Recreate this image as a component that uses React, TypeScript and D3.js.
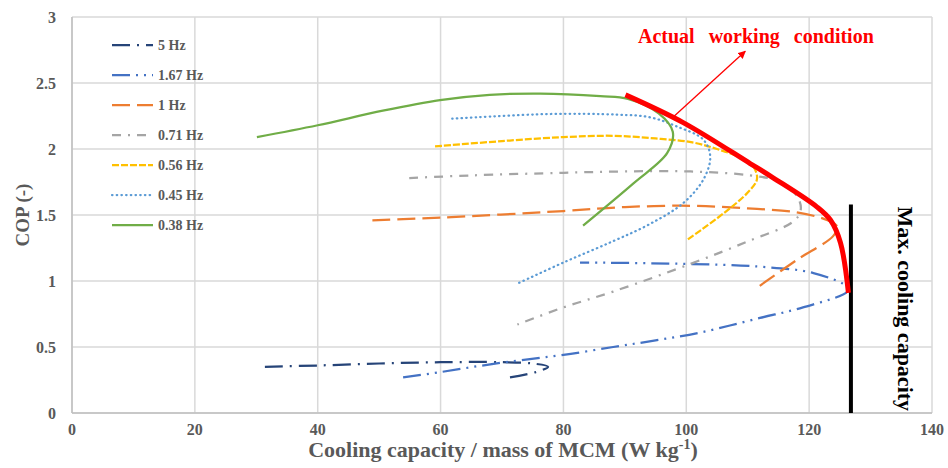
import React from 'react';
import * as d3 from 'd3';

// tick values
const xTicks = [0, 20, 40, 60, 80, 100, 120, 140];
const yTicks = [0, 0.5, 1, 1.5, 2, 2.5, 3];

// series: [cooling capacity per mass, COP]
const s5Hz: [number, number][] = [
  [31.4, 0.35], [40, 0.36], [50, 0.375], [60, 0.385], [70, 0.385], [75, 0.375],
  [77.5, 0.35], [75.5, 0.31], [71.3, 0.27],
];
const s167Hz: [number, number][] = [
  [53.9, 0.27], [60, 0.31], [66.4, 0.357], [73, 0.4], [80, 0.44], [88.1, 0.5],
  [95, 0.55], [102.3, 0.61], [112, 0.72], [119, 0.8], [126.2, 0.92],
  [126.2, 0.955], [120.7, 1.06], [111.5, 1.11], [99.5, 1.13], [82.7, 1.14],
];
const s1Hz: [number, number][] = [
  [48.9, 1.46], [59.9, 1.48], [80, 1.53], [90, 1.56], [100.7, 1.57], [110, 1.55],
  [118, 1.52], [123, 1.46], [124.6, 1.41], [123.9, 1.34], [118, 1.16], [111.7, 0.955],
];
const s071Hz: [number, number][] = [
  [54.9, 1.78], [65, 1.8], [80, 1.82], [90, 1.83], [100.7, 1.83], [110.4, 1.8],
  [115.3, 1.75], [118.2, 1.63], [118.6, 1.53], [117.4, 1.45], [110, 1.3],
  [100.7, 1.13], [88.1, 0.92], [80, 0.8], [72.5, 0.67],
];
const s056Hz: [number, number][] = [
  [59.1, 2.02], [70, 2.06], [80, 2.09], [88, 2.1], [95, 2.08], [101, 2.05],
  [105, 2.0], [109, 1.93], [111, 1.86], [111.5, 1.77], [110, 1.67], [106, 1.51],
  [100.1, 1.31],
];
const s045Hz: [number, number][] = [
  [61.9, 2.23], [77.8, 2.265], [88.8, 2.26], [94.1, 2.24], [98.5, 2.17],
  [102.8, 2.07], [103.9, 1.94], [102.8, 1.77], [99.5, 1.59], [94, 1.43],
  [88, 1.3], [80, 1.14], [72.5, 0.98],
];
const s038Hz: [number, number][] = [
  [30.1, 2.09], [40, 2.18], [50.6, 2.29], [59.9, 2.37], [68, 2.41], [76.2, 2.42],
  [86, 2.4], [90.5, 2.38], [95.5, 2.27], [97.8, 2.13], [96.9, 1.97],
  [91.4, 1.74], [83.2, 1.42],
];
const actualCondition: [number, number][] = [
  [90.1, 2.41], [99.5, 2.2], [110.4, 1.89], [114.2, 1.78], [121.3, 1.56],
  [123.5, 1.46], [125.1, 1.29], [126.4, 0.91],
];
const maxCapacity = 126.8;
const maxCapacityTop = 1.58;

const series = [
  { name: '5 Hz', data: s5Hz, color: '#264478', dash: '18 7 2 7', cap: 'butt' },
  { name: '1.67 Hz', data: s167Hz, color: '#4472C4', dash: '18 6 2 6 2 6', cap: 'butt' },
  { name: '1 Hz', data: s1Hz, color: '#ED7D31', dash: '18 7', cap: 'butt' },
  { name: '0.71 Hz', data: s071Hz, color: '#A5A5A5', dash: '9 7 2 7', cap: 'butt' },
  { name: '0.56 Hz', data: s056Hz, color: '#FFC000', dash: '7 2', cap: 'butt' },
  { name: '0.45 Hz', data: s045Hz, color: '#5B9BD5', dash: '0.5 4.2', cap: 'round' },
  { name: '0.38 Hz', data: s038Hz, color: '#70AD47', dash: null, cap: 'butt' },
];

const W = 948;
const H = 468;
const margin = { top: 17, right: 16, bottom: 55, left: 72 };
const FONT = '"Liberation Serif", "Times New Roman", serif';

export default function App() {
  const x = d3.scaleLinear().domain([0, 140]).range([margin.left, W - margin.right]);
  const y = d3.scaleLinear().domain([0, 3]).range([H - margin.bottom, margin.top]);

  const line = d3
    .line<[number, number]>()
    .x((d) => x(d[0]))
    .y((d) => y(d[1]))
    .curve(d3.curveCatmullRom.alpha(0.5));

  const x0 = x(0);
  const x1 = x(140);
  const y0 = y(0);
  const y1 = y(3);

  return (
    <svg
      width={W}
      height={H}
      style={{ position: 'absolute', left: 0, top: 0, background: '#fff' }}
      fontFamily={FONT}
    >
      {/* gridlines */}
      {xTicks.map((t) => (
        <line key={'gx' + t} x1={x(t)} x2={x(t)} y1={y0} y2={y1} stroke="#D9D9D9" strokeWidth={1.5} />
      ))}
      {yTicks.map((t) => (
        <line key={'gy' + t} x1={x0} x2={x1} y1={y(t)} y2={y(t)} stroke="#D9D9D9" strokeWidth={1.5} />
      ))}
      <line x1={x0} x2={x0} y1={y0} y2={y1} stroke="#BFBFBF" strokeWidth={1.5} />
      <line x1={x0} x2={x1} y1={y0} y2={y0} stroke="#BFBFBF" strokeWidth={1.5} />

      {/* tick labels */}
      {xTicks.map((t) => (
        <text key={'tx' + t} x={x(t)} y={y0 + 22} textAnchor="middle" fontSize={16} fontWeight="bold" fill="#595959">
          {t}
        </text>
      ))}
      {yTicks.map((t) => (
        <text key={'ty' + t} x={x0 - 16} y={y(t) + 5.5} textAnchor="end" fontSize={16} fontWeight="bold" fill="#595959">
          {t}
        </text>
      ))}

      {/* axis titles */}
      <text
        x={503}
        y={457}
        textAnchor="middle"
        fontSize={22}
        fontWeight="bold"
        fill="#595959"
      >
        Cooling capacity / mass of MCM (W kg
        <tspan dy={-8} fontSize={14}>-1</tspan>
        <tspan dy={8}>)</tspan>
      </text>
      <text
        transform={`translate(29,${y(1.5)}) rotate(-90)`}
        textAnchor="middle"
        fontSize={19}
        fontWeight="bold"
        fill="#595959"
      >
        COP (-)
      </text>

      {/* series */}
      {series.map((s) => (
        <path
          key={s.name}
          d={line(s.data) || ''}
          fill="none"
          stroke={s.color}
          strokeWidth={2.25}
          strokeDasharray={s.dash || undefined}
          strokeLinecap={s.cap as 'butt' | 'round'}
        />
      ))}

      {/* max cooling capacity */}
      <line
        x1={x(maxCapacity)}
        x2={x(maxCapacity)}
        y1={y(0)}
        y2={y(maxCapacityTop)}
        stroke="#000"
        strokeWidth={4}
      />
      <text
        transform={`translate(898,${(y(0) + y(maxCapacityTop)) / 2}) rotate(90)`}
        textAnchor="middle"
        fontSize={22}
        fontWeight="bold"
        fill="#000"
      >
        Max. cooling capacity
      </text>

      {/* actual working condition */}
      <path d={line(actualCondition) || ''} fill="none" stroke="#FF0000" strokeWidth={5} />
      <defs>
        <marker id="arrow" viewBox="0 0 10 10" refX="9" refY="5" markerWidth="6" markerHeight="6" orient="auto">
          <path d="M0,0 L10,5 L0,10 z" fill="#FF0000" />
        </marker>
      </defs>
      <line
        x1={x(97.7)}
        y1={y(2.235)}
        x2={x(109.6)}
        y2={y(2.74)}
        stroke="#FF0000"
        strokeWidth={1.3}
        markerEnd="url(#arrow)"
      />
      <text x={638} y={43} fontSize={20} fontWeight="bold" fill="#FF0000" wordSpacing={9}>
        Actual working condition
      </text>

      {/* legend */}
      {series.map((s, i) => (
        <g key={'lg' + s.name} transform={`translate(112,${45 + i * 30})`}>
          <line
            x1={0}
            x2={41}
            y1={0}
            y2={0}
            stroke={s.color}
            strokeWidth={2.25}
            strokeDasharray={s.dash || undefined}
            strokeLinecap={s.cap as 'butt' | 'round'}
          />
          <text x={46} y={5} fontSize={14} fontWeight="bold" fill="#595959">
            {s.name}
          </text>
        </g>
      ))}
    </svg>
  );
}
